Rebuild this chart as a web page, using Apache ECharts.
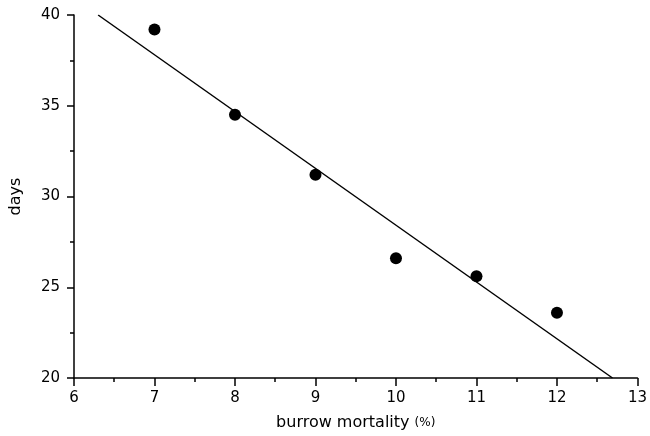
<!DOCTYPE html>
<html>
<head>
<meta charset="utf-8">
<script src="https://cdn.jsdelivr.net/npm/echarts@6/dist/echarts.min.js"></script>
<style>
  html, body { margin: 0; padding: 0; background: #fff; }
  #chart { width: 650px; height: 436px; }
</style>
</head>
<body>
<div id="chart"></div>
<script>
// measured points
var mortality = [7, 8, 9, 10, 11, 12];
var days = [39.2, 34.5, 31.2, 26.6, 25.6, 23.6];
// fitted line end points
var fitX = [6.3, 12.69];
var fitY = [40, 20];

var chart = echarts.init(document.getElementById('chart'));

var font = 'DejaVu Sans';

chart.setOption({
  animation: false,
  backgroundColor: '#fff',
  grid: { left: 73, right: 9, top: 15, bottom: 57 },
  xAxis: {
    type: 'value',
    min: 6, max: 13, interval: 1,
    name: '{a|burrow mortality }{b|(%)}',
    nameLocation: 'middle',
    nameGap: 37,
    nameTextStyle: {
      rich: {
        a: { fontFamily: font, fontSize: 16, color: '#000' },
        b: { fontFamily: font, fontSize: 12, color: '#000' }
      }
    },
    axisLine: { lineStyle: { color: '#000', width: 1.5 } },
    axisTick: { length: 8, lineStyle: { color: '#000', width: 1.5 } },
    minorTick: { show: true, splitNumber: 2, length: 4, lineStyle: { color: '#000', width: 1.5 } },
    axisLabel: { fontFamily: font, fontSize: 15, color: '#000', margin: 13 },
    splitLine: { show: false }
  },
  yAxis: {
    type: 'value',
    min: 20, max: 40, interval: 5,
    name: 'days',
    nameLocation: 'middle',
    nameGap: 50,
    nameTextStyle: { fontFamily: font, fontSize: 16, color: '#000' },
    axisLine: { show: true, lineStyle: { color: '#000', width: 1.5 } },
    axisTick: { show: true, length: 7, lineStyle: { color: '#000', width: 1.5 } },
    minorTick: { show: true, splitNumber: 2, length: 4, lineStyle: { color: '#000', width: 1.5 } },
    axisLabel: { fontFamily: font, fontSize: 15, color: '#000', margin: 14 },
    splitLine: { show: false }
  },
  series: [
    {
      type: 'line',
      data: fitX.map(function (x, i) { return [x, fitY[i]]; }),
      symbol: 'none',
      lineStyle: { color: '#000', width: 1.5 },
      z: 2
    },
    {
      type: 'scatter',
      data: mortality.map(function (x, i) { return [x, days[i]]; }),
      symbol: 'circle',
      symbolSize: 12,
      itemStyle: { color: '#000', opacity: 1 },
      z: 3
    }
  ]
});
</script>
</body>
</html>
